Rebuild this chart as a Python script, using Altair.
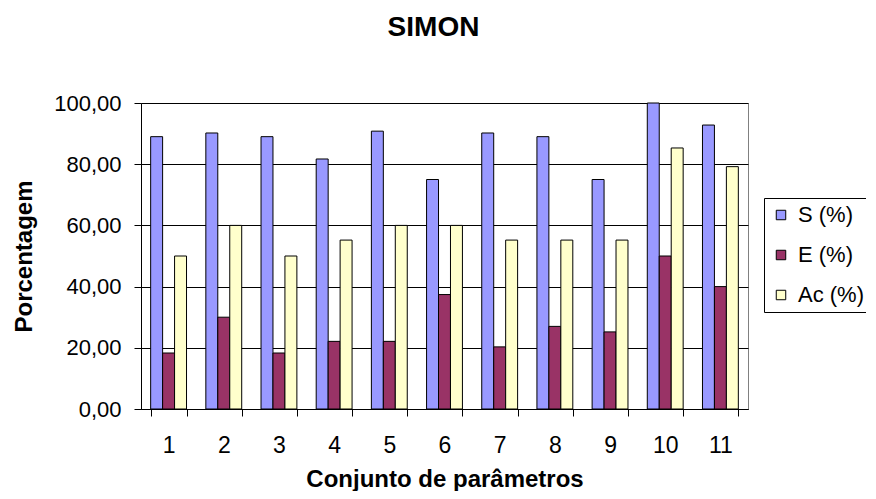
import altair as alt
import pandas as pd

categories = [str(i) for i in range(1, 12)]
series = ["S (%)", "E (%)", "Ac (%)"]
s_vals = [89.0, 90.2, 89.0, 81.7, 90.8, 75.0, 90.2, 89.0, 75.0, 100.0, 92.8]
e_vals = [18.3, 30.0, 18.3, 22.1, 22.1, 37.4, 20.3, 27.0, 25.2, 50.0, 40.0]
ac_vals = [50.0, 60.0, 50.0, 55.2, 60.0, 60.0, 55.2, 55.2, 55.2, 85.3, 79.2]
colors = ["#9999FF", "#993366", "#FFFFCC"]

rows = []
for name, vals in zip(series, [s_vals, e_vals, ac_vals]):
    for c, v in zip(categories, vals):
        rows.append({"cat": c, "series": name, "value": v})
df = pd.DataFrame(rows)

font = "Liberation Sans"

chart = alt.Chart(df).mark_bar(stroke="black", strokeWidth=1).encode(
    x=alt.X("cat:N", sort=categories,
            scale=alt.Scale(paddingInner=0.35, paddingOuter=0.175),
            axis=alt.Axis(title="Conjunto de parâmetros", labelAngle=0,
                          tickBand="extent", labelFontSize=23, titleFontSize=24,
                          titleFontWeight="bold", labelPadding=18, titlePadding=10,
                          domainColor="black", tickColor="black", tickSize=7,
                          labelColor="black", titleColor="black",
                          labelFont=font, titleFont=font)),
    xOffset=alt.XOffset("series:N", sort=series),
    y=alt.Y("value:Q", scale=alt.Scale(domain=[0, 100], nice=False),
            axis=alt.Axis(title="Porcentagem", values=[0, 20, 40, 60, 80, 100],
                          labelExpr="replace(format(datum.value, '.2f'), '.', ',')",
                          labelFontSize=22, titleFontSize=24, titleFontWeight="bold",
                          gridColor="black", gridWidth=1, domainColor="black",
                          tickColor="black", tickSize=7, labelPadding=13,
                          titlePadding=17, labelColor="black", titleColor="black",
                          labelFont=font, titleFont=font)),
    color=alt.Color("series:N", sort=series,
                    scale=alt.Scale(domain=series, range=colors),
                    legend=alt.Legend(title=None, orient="none", legendX=623, legendY=95,
                                      symbolType="square", symbolSize=90,
                                      symbolStrokeColor="black", symbolStrokeWidth=1,
                                      labelFontSize=22, labelFont=font, labelColor="black",
                                      rowPadding=18, padding=6, strokeColor="black",
                                      fillColor="white", labelOffset=6)),
).properties(
    width=607, height=306,
    title=alt.TitleParams("SIMON", fontSize=28, fontWeight="bold", font=font,
                          color="black", anchor="middle", frame="group",
                          dx=-11, offset=50),
    autosize=alt.AutoSizeParams(type="none"),
    padding={"left": 133, "top": 95, "right": 118, "bottom": 82},
).configure_view(stroke="#808080", strokeWidth=1)

chart.save("out.html", embed_options={"renderer": "svg", "actions": False})
